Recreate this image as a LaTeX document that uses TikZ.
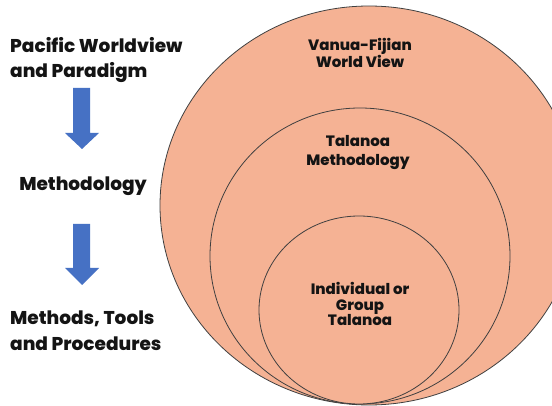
\documentclass[tikz,border=0pt]{standalone}
\usepackage{fontspec}
\setmainfont{Poppins}[BoldFont={Poppins ExtraBold}]
\begin{document}
\begin{tikzpicture}[x=1pt,y=-1pt,
  ring/.style={draw=black!75,line width=0.8pt,fill=salmon},
  blockarrow/.style={fill=officeblue,draw=none},
  sidelabel/.style={font=\fontsize{18.5}{25}\selectfont\bfseries,text=black!92,inner sep=0pt,align=left},
  ringlabel/.style={font=\fontsize{15}{15.5}\selectfont\bfseries,text=black!92,inner sep=0pt,align=center}]
\definecolor{salmon}{RGB}{245,178,148}
\definecolor{officeblue}{RGB}{70,113,196}
\useasboundingbox (0,0) rectangle (552,406);
\fill[white] (0,0) rectangle (552,406);

% nested circles, all touching at the bottom
\draw[ring] (369,205.5) ellipse[x radius=209,y radius=199.5];
\draw[ring] (360,256) ellipse[x radius=150,y radius=148];
\draw[ring] (359,310) ellipse[x radius=100,y radius=94];

% left column (base anchor sits on the last line)
\node[sidelabel,anchor=base west] (pacific) at (10,78) {Pacific Worldview\\and Paradigm};
\node[sidelabel,anchor=base] (method) at (83,191) {Methodology};
\node[sidelabel,anchor=base west] (tools) at (10,350) {Methods, Tools\\and Procedures};

% downward block arrows
\fill[blockarrow] (73,88) -- (90,88) -- (90,133) -- (99,133) -- (82,149) -- (65,133) -- (73,133) -- cycle;
\fill[blockarrow] (73,224) -- (90,224) -- (90,268) -- (99,268) -- (82,285) -- (65,268) -- (73,268) -- cycle;

% circle labels
\node[ringlabel,anchor=base] (vanua) at (360,68) {Vanua-Fijian\\World View};
\node[ringlabel,anchor=base,font=\fontsize{15}{19}\selectfont\bfseries] (talanoa) at (358,166) {Talanoa\\Methodology};
\node[ringlabel,anchor=base] (group) at (360,326) {Individual or\\Group\\Talanoa};
\end{tikzpicture}
\end{document}
